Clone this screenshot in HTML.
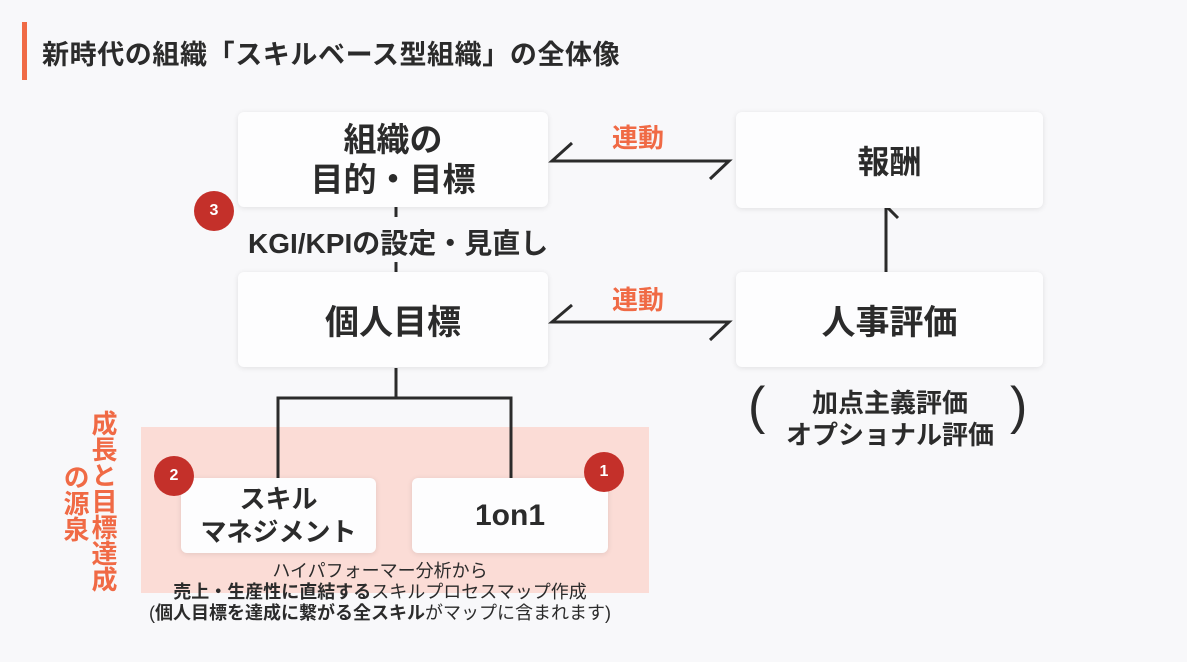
<!DOCTYPE html>
<html><head><meta charset="utf-8"><style>
*{margin:0;padding:0;box-sizing:border-box}
body{width:1187px;height:662px;background:#f8f8fa;position:relative;overflow:hidden;font-family:"Liberation Sans","Noto Sans CJK JP",sans-serif;color:#2b2b2b}
.a{position:absolute}
.box{position:absolute;background:#fdfdfe;border-radius:6px;box-shadow:0 1px 6px rgba(0,0,0,0.10);display:flex;align-items:center;justify-content:center;text-align:center;font-weight:bold;color:#2b2b2b}
.c{position:absolute;width:40px;height:40px;border-radius:50%;background:#c4302a;color:#fff;font-weight:bold;font-size:16px;display:flex;align-items:center;justify-content:center}
.o{color:#f06a45;font-weight:bold}
</style></head><body>
<div class="a" style="left:22px;top:22px;width:5px;height:58px;background:#f06a45"></div>
<div class="a" style="left:42px;top:33px;font-size:27px;letter-spacing:0.6px;font-weight:bold;color:#2b2b2b;white-space:nowrap">新時代の組織「スキルベース型組織」の全体像</div>

<div class="a" style="left:141px;top:427px;width:508px;height:166px;background:#fbdcd6"></div>

<svg class="a" style="left:0;top:0" width="1187" height="662">
<g stroke="#2b2b2b" stroke-width="3" fill="none">
<polyline points="572,143 552,161 729,161 710,179"/>
<polyline points="572,305 552,322 729,322 710,340"/>
<polyline points="886,272 886,206 898,218"/>
<line x1="396" y1="207" x2="396" y2="217"/>
<line x1="396" y1="262" x2="396" y2="272"/>
<polyline points="396,368 396,398"/>
<polyline points="278,478 278,398 511,398 511,478"/>
</g>
</svg>

<div class="box" style="left:238px;top:112px;width:310px;height:95px;font-size:33px;line-height:40px">組織の<br>目的・目標</div>
<div class="box" style="left:736px;top:112px;width:307px;height:96px;font-size:32px">報酬</div>
<div class="box" style="left:238px;top:272px;width:310px;height:95px;font-size:34px">個人目標</div>
<div class="box" style="left:736px;top:272px;width:307px;height:95px;font-size:34px">人事評価</div>
<div class="box" style="left:181px;top:478px;width:195px;height:75px;font-size:26px;line-height:33px">スキル<br>マネジメント</div>
<div class="box" style="left:412px;top:478px;width:196px;height:75px;font-size:30px">1on1</div>

<div class="a o" style="left:612px;top:118px;font-size:26px">連動</div>
<div class="a o" style="left:612px;top:280px;font-size:26px">連動</div>

<div class="a" style="left:246px;top:222px;font-size:28px;font-weight:bold;background:#f8f8fa;padding:0 2px;white-space:nowrap">KGI/KPIの設定・見直し</div>

<div class="c" style="left:194px;top:191px">3</div>
<div class="c" style="left:154px;top:456px">2</div>
<div class="c" style="left:584px;top:452px">1</div>

<div class="a" style="left:748px;top:376px;font-size:52px;font-weight:300;color:#2b2b2b">(</div>
<div class="a" style="left:1010px;top:376px;font-size:52px;font-weight:300;color:#2b2b2b">)</div>
<div class="a" style="left:770px;top:387px;width:240px;text-align:center;font-size:26px;font-weight:bold;line-height:32px;white-space:nowrap">加点主義評価<br>オプショナル評価</div>

<div class="a o" style="left:88px;top:410px;width:30px;font-size:26px;line-height:30px;writing-mode:vertical-rl">成長と目標達成</div>
<div class="a o" style="left:60px;top:464px;width:30px;font-size:26px;line-height:30px;writing-mode:vertical-rl">の源泉</div>

<div class="a" style="left:110px;top:561px;width:540px;text-align:center;font-size:18px;line-height:21px;color:#2b2b2b;white-space:nowrap">ハイパフォーマー分析から<br><b>売上・生産性に直結する</b>スキルプロセスマップ作成<br>(<b>個人目標を達成に繋がる全スキル</b>がマップに含まれます)</div>
</body></html>
